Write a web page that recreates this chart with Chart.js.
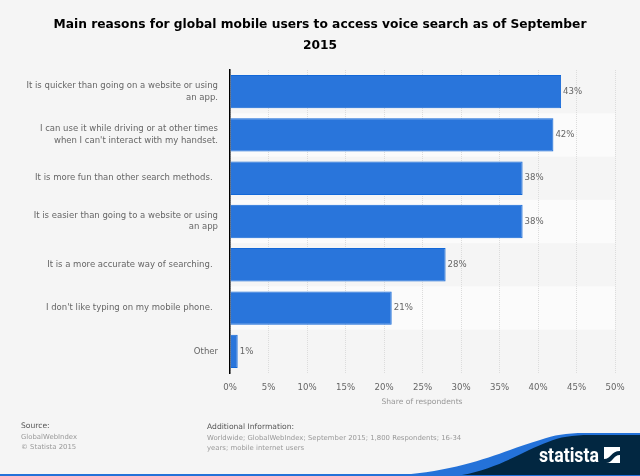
<!DOCTYPE html>
<html lang="en">

<head>
    <meta charset="UTF-8">
    <title>Voice search</title>
    <script src="https://cdn.jsdelivr.net/npm/chart.js"></script>
    <style>
        html, body {
            margin: 0;
            padding: 0;
            background: #f5f5f5;
        }

        #wrap {
            position: relative;
            width: 640px;
            height: 476px;
            overflow: hidden;
            font-family: "DejaVu Sans", sans-serif;
        }

        canvas {
            position: absolute;
            left: 0;
            top: 0;
        }

        .titulo {
            position: absolute;
            left: 40px;
            width: 560px;
            top: 14px;
            text-align: center;
            font-size: 12.25px;
            font-weight: bold;
            line-height: 21px;
            color: #000;
        }

        .eje {
            position: absolute;
            left: 322px;
            width: 200px;
            top: 397px;
            text-align: center;
            font-size: 7.6px;
            line-height: 10px;
            color: #999;
        }

        .note {
            position: absolute;
            font-size: 6.9px;
            line-height: 10px;
            color: #999;
        }

        .note b {
            display: block;
            font-weight: normal;
            color: #555;
            font-size: 7.6px;
            margin-bottom: 1px;
        }

        #logo {
            position: absolute;
            left: 0;
            top: 0;
        }
    </style>
</head>

<body>
    <div id="wrap">
        <canvas id="miGrafica" width="640" height="476"></canvas>
        <div class="titulo">Main reasons for global mobile users to access voice search as of September<br>2015</div>
        <div class="eje">Share of respondents</div>
        <div class="note" style="left:21px; top:421px;"><b>Source:</b>GlobalWebIndex<br>© Statista 2015</div>
        <div class="note" style="left:207px; top:422px; width:290px;"><b>Additional Information:</b>Worldwide; GlobalWebIndex; September 2015; 1,800 Respondents; 16-34<br>years; mobile internet users</div>
        <svg id="logo" width="640" height="476" viewBox="0 0 640 476">
            <rect x="0" y="474" width="640" height="2" fill="#2472d9"/>
            <path d="M400 475 C470 470 510 448 540 440 C555 435 565 433 585 433 L640 433 L640 475 Z" fill="#2472d9"/>
            <path d="M462 475 C500 468 525 450 548 442 C560 437 572 435 590 435 L640 435 L640 475 Z" fill="#022741"/>
            <text x="539" y="462" textLength="60" lengthAdjust="spacingAndGlyphs" font-family="Roboto" font-weight="bold" font-size="20" fill="#fff">statista</text>
            <rect x="604" y="447" width="16" height="16" fill="#fff"/>
            <path d="M604 459 C611 459 611 451 620 451 L620 455 C613 455 613 463 606 463 L604 463 Z" fill="#022741"/>
        </svg>
    </div>

    <script>
        const categorias = [
            ['It is quicker than going on a website or using', 'an app.'],
            ['I can use it while driving or at other times', "when I can't interact with my handset."],
            'It is more fun than other search methods.  ',
            ['It is easier than going to a website or using', 'an app'],
            'It is a more accurate way of searching.  ',
            "I don't like typing on my mobile phone.  ",
            'Other'
        ];
        const valores = [43, 42, 38, 38, 28, 21, 1];

        // Bandas alternas detras de la grafica
        const bandas = {
            id: 'bandas',
            beforeDraw(chart) {
                const { ctx, chartArea, scales } = chart;
                const paso = scales.y.getPixelForValue(1) - scales.y.getPixelForValue(0);
                ctx.save();
                ctx.fillStyle = '#fbfbfb';
                valores.forEach((v, i) => {
                    if (i % 2 === 1) {
                        const y = scales.y.getPixelForValue(i) - paso / 2;
                        ctx.fillRect(chartArea.left, y, chartArea.width, paso);
                    }
                });
                ctx.restore();
            }
        };

        // Etiquetas de valor al final de cada barra
        const etiquetas = {
            id: 'etiquetas',
            afterDatasetsDraw(chart) {
                const { ctx } = chart;
                ctx.save();
                ctx.font = '8.6px "DejaVu Sans"';
                ctx.fillStyle = '#666';
                ctx.textBaseline = 'middle';
                chart.getDatasetMeta(0).data.forEach((bar, i) => {
                    ctx.fillText(valores[i] + '%', bar.x + 2, bar.y);
                });
                ctx.restore();
            }
        };

        const ctx = document.getElementById('miGrafica').getContext('2d');
        new Chart(ctx, {
            type: 'bar',
            data: {
                labels: categorias,
                datasets: [{
                    data: valores,
                    backgroundColor: '#2975db',
                    borderColor: '#1268d8',
                    borderWidth: 1,
                    barPercentage: 0.77,
                    categoryPercentage: 1
                }]
            },
            options: {
                indexAxis: 'y',
                responsive: false,
                animation: false,
                layout: { padding: { top: 70, right: 25, bottom: 0, left: 0 } },
                plugins: {
                    legend: { display: false },
                    title: { display: false },
                    tooltip: { enabled: false }
                },
                scales: {
                    x: {
                        min: 0,
                        max: 50,
                        afterFit(scale) { scale.height = 103; },
                        grid: { color: '#dcdcdc', drawTicks: false },
                        border: { display: false, dash: [1, 1] },
                        ticks: {
                            stepSize: 5,
                            padding: 10,
                            maxRotation: 0,
                            autoSkip: false,
                            color: '#666',
                            font: { family: 'DejaVu Sans', size: 8.6 },
                            callback: v => v + '%'
                        }
                    },
                    y: {
                        afterFit(scale) { scale.width = 230; },
                        grid: { display: false },
                        border: { color: '#000', width: 1.5 },
                        ticks: {
                            padding: 4,
                            autoSkip: false,
                            color: '#666',
                            font: { family: 'DejaVu Sans', size: 8.5, lineHeight: 1.35 }
                        }
                    }
                }
            },
            plugins: [bandas, etiquetas]
        });
    </script>
</body>

</html>
